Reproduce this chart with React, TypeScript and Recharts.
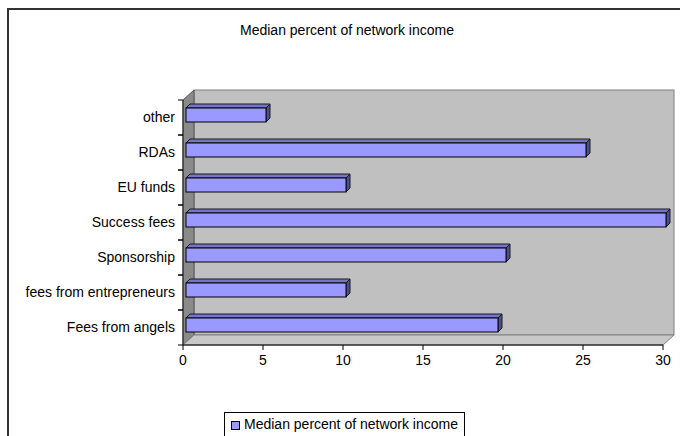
import { BarChart, Bar, XAxis, YAxis, ReferenceArea, Legend } from 'recharts'

// Excel order: first category sits at the bottom
const categories = [
  'Fees from angels',
  'fees from entrepreneurs',
  'Sponsorship',
  'Success fees',
  'EU funds',
  'RDAs',
  'other',
]
const medianPercent = [19.5, 10, 20, 30, 10, 25, 5]
const xTicks = [0, 5, 10, 15, 20, 25, 30]
const seriesName = 'Median percent of network income'

const FONT = '"Liberation Sans", Arial, sans-serif'

const chartData = categories.map((name, i) => ({ name, value: medianPercent[i] }))

// back wall, left side wall and floor of the 3D plot box
function Walls(props: any) {
  const { x, y, width, height } = props
  const dx = 11
  const dy = 10
  return (
    <g>
      <rect x={x + dx} y={y - dy} width={width} height={height} fill="#C0C0C0" stroke="#808080" />
      <polygon
        points={`${x},${y} ${x + dx},${y - dy} ${x + dx},${y + height - dy} ${x},${y + height}`}
        fill="#8A8A8A"
        stroke="#555"
      />
      <polygon
        points={`${x},${y + height} ${x + dx},${y + height - dy} ${x + width + dx},${y + height - dy} ${x + width},${y + height}`}
        fill="#C8C8C8"
        stroke="#808080"
      />
    </g>
  )
}

function Bar3D(props: any) {
  const { x, y, width, height } = props
  const fx = x + 3
  const fy = y - 3
  const d = 4
  return (
    <g>
      <polygon
        points={`${fx},${fy} ${fx + d},${fy - d} ${fx + width + d},${fy - d} ${fx + width},${fy}`}
        fill="#7474C8"
        stroke="#1a1a1a"
        strokeWidth={1}
      />
      <polygon
        points={`${fx + width},${fy} ${fx + width + d},${fy - d} ${fx + width + d},${fy + height - d} ${fx + width},${fy + height}`}
        fill="#4E4E8C"
        stroke="#1a1a1a"
        strokeWidth={1}
      />
      <rect x={fx} y={fy} width={width} height={height} fill="#9999FF" stroke="#000" strokeWidth={1} />
    </g>
  )
}

function CategoryTick(props: any) {
  const { x, y, payload } = props
  const half = payload && payload.offset ? payload.offset : 17.5
  const axisX = x + 8
  return (
    <g>
      <text x={x} y={y} dy="0.35em" textAnchor="end" fill="#000" fontSize={14} fontFamily={FONT}>
        {payload.value}
      </text>
      <line x1={axisX - 5} y1={y - half} x2={axisX} y2={y - half} stroke="#000" />
      <line x1={axisX - 5} y1={y + half} x2={axisX} y2={y + half} stroke="#000" />
    </g>
  )
}

function LegendBox() {
  return (
    <div
      style={{
        border: '1px solid #000',
        height: 30,
        boxSizing: 'border-box',
        padding: '3px 6px 0 6px',
        display: 'flex',
        alignItems: 'flex-start',
        fontFamily: FONT,
        fontSize: 14,
        color: '#000',
        background: '#fff',
        whiteSpace: 'nowrap',
      }}
    >
      <span
        style={{
          display: 'inline-block',
          width: 7,
          height: 7,
          background: '#9999FF',
          border: '1px solid #000',
          marginRight: 4,
          marginTop: 5,
        }}
      />
      <span>{seriesName}</span>
    </div>
  )
}

export default function App() {
  return (
    <div style={{ position: 'fixed', left: 0, top: 0, width: 680, height: 436, background: '#fff', overflow: 'hidden' }}>
      <div
        style={{
          position: 'absolute',
          left: 7,
          top: 8,
          width: 680,
          height: 440,
          border: '2px solid #333',
          boxSizing: 'border-box',
        }}
      />
      <div
        style={{
          position: 'absolute',
          left: 0,
          width: 694,
          top: 22,
          textAlign: 'center',
          fontFamily: FONT,
          fontSize: 14,
          color: '#000',
        }}
      >
        {seriesName}
      </div>
      <div style={{ position: 'absolute', left: 0, top: 0 }}>
        <BarChart
          width={680}
          height={436}
          data={chartData}
          layout="vertical"
          margin={{ top: 100, right: 17, bottom: 31, left: 0 }}
          barSize={14}
        >
          <ReferenceArea x1={0} x2={30} shape={(p: any) => <Walls {...p} />} ifOverflow="visible" />
          <XAxis
            type="number"
            domain={[0, 30]}
            ticks={xTicks}
            interval={0}
            axisLine={{ stroke: '#000' }}
            tickLine={{ stroke: '#000' }}
            tickSize={5}
            tickMargin={5}
            height={30}
            tick={{ fill: '#000', fontSize: 14, fontFamily: FONT }}
          />
          <YAxis
            type="category"
            dataKey="name"
            reversed
            width={183}
            axisLine={{ stroke: '#222' }}
            tickLine={false}
            tickSize={5}
            tickMargin={3}
            tick={<CategoryTick />}
            interval={0}
          />
          <Bar dataKey="value" name={seriesName} shape={(p: any) => <Bar3D {...p} />} isAnimationActive={false} />
          <Legend
            content={() => <LegendBox />}
            wrapperStyle={{ position: 'absolute', left: 224, top: 412, width: 'auto', bottom: 'auto' }}
          />
        </BarChart>
      </div>
    </div>
  )
}
